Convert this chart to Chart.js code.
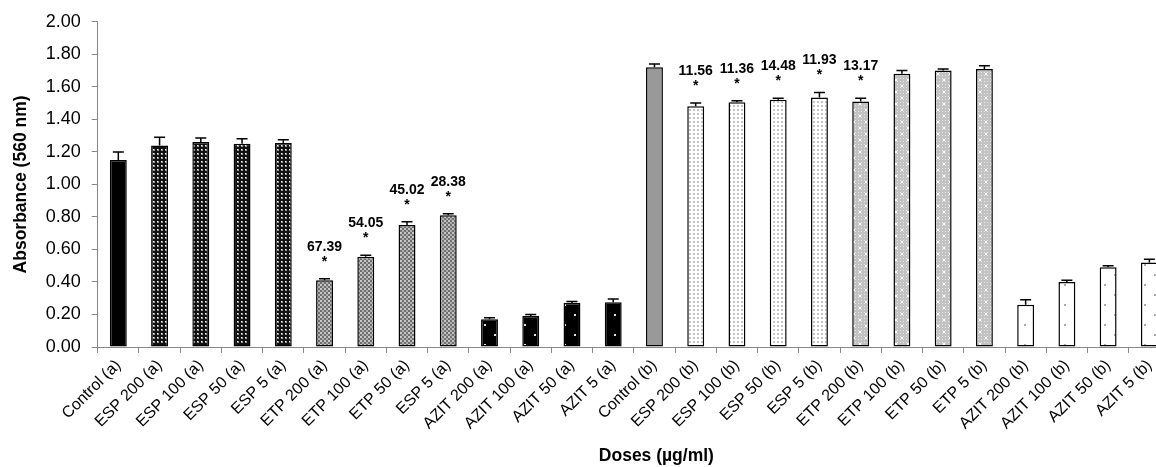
<!DOCTYPE html>
<html>
<head>
<meta charset="utf-8">
<script src="https://cdn.jsdelivr.net/npm/chart.js@4.4.1/dist/chart.umd.min.js"></script>
<style>
  html, body { margin: 0; padding: 0; background: #fff; overflow: hidden; }
  #wrap { width: 1175px; height: 467px; }
</style>
</head>
<body>
<div id="wrap"><canvas id="absChart"></canvas></div>
<script>
// Doses along the x axis
const categories = [
    'Control (a)', 'ESP 200 (a)', 'ESP 100 (a)', 'ESP 50 (a)', 'ESP 5 (a)',
    'ETP 200 (a)', 'ETP 100 (a)', 'ETP 50 (a)', 'ESP 5 (a)',
    'AZIT 200 (a)', 'AZIT 100 (a)', 'AZIT 50 (a)', 'AZIT 5 (a)',
    'Control (b)', 'ESP 200 (b)', 'ESP 100 (b)', 'ESP 50 (b)', 'ESP 5 (b)',
    'ETP 200 (b)', 'ETP 100 (b)', 'ETP 50 (b)', 'ETP 5 (b)',
    'AZIT 200 (b)', 'AZIT 100 (b)', 'AZIT 50 (b)', 'AZIT 5 (b)'
];

// absorbance at 560 nm (mean) and its error
const absorbance = [
    1.15, 1.24, 1.26, 1.25, 1.255,
    0.41, 0.555, 0.75, 0.81,
    0.17, 0.19, 0.27, 0.275,
    1.72, 1.48, 1.505, 1.52, 1.535,
    1.51, 1.68, 1.70, 1.71,
    0.26, 0.40, 0.49, 0.52
];
const errors = [
    0.05, 0.05, 0.025, 0.03, 0.02,
    0.01, 0.01, 0.02, 0.01,
    0.01, 0.01, 0.01, 0.02,
    0.02, 0.02, 0.01, 0.01, 0.03,
    0.02, 0.02, 0.01, 0.02,
    0.03, 0.01, 0.01, 0.02
];

// % inhibition written above the significant bars
const inhibition = [
    '', '', '', '', '',
    '67.39', '54.05', '45.02', '28.38',
    '', '', '', '',
    '', '11.56', '11.36', '14.48', '11.93',
    '13.17', '', '', '',
    '', '', '', ''
];

// which fill each bar gets
const barGroups = [
    'ctrlA', 'espA', 'espA', 'espA', 'espA',
    'etpA', 'etpA', 'etpA', 'etpA',
    'azitA', 'azitA', 'azitA', 'azitA',
    'ctrlB', 'espB', 'espB', 'espB', 'espB',
    'etpB', 'etpB', 'etpB', 'etpB',
    'azitB', 'azitB', 'azitB', 'azitB'
];

const yMin = 0, yMax = 2, yStep = 0.2;

// small tiled patterns like the Excel fills
function makePattern(size, bg, dots) {
    const c = document.createElement('canvas');
    c.width = size; c.height = size;
    const g = c.getContext('2d');
    g.fillStyle = bg;
    g.fillRect(0, 0, size, size);
    dots.forEach(d => {
        g.fillStyle = d[3];
        g.fillRect(d[0], d[1], d[2], d[2]);
    });
    return g.createPattern(c, 'repeat');
}

const ctx = document.getElementById('absChart').getContext('2d');

// grey checker with a few white specks for the ETP (b) bars
const etpBDots = [];
for (let i = 0; i < 12; i += 3) {
    for (let j = 0; j < 12; j += 3) {
        etpBDots.push([i, j, 1, '#e6e6e6']);
    }
}
etpBDots.push([1, 1, 2, '#ffffff'], [7, 7, 2, '#ffffff']);

const fills = {
    ctrlA: '#000000',
    espA: makePattern(4, '#101010', [[1, 1, 2, '#9a9a9a'], [1, 1, 1, '#ffffff']]),
    etpA: makePattern(4, '#6e6e6e', [[0, 0, 2, '#c8c8c8'], [2, 2, 2, '#b0b0b0']]),
    azitA: makePattern(20, '#000000', [[4, 4, 2, '#e0e0e0'], [14, 14, 2, '#e0e0e0']]),
    ctrlB: '#999999',
    espB: makePattern(4, '#ffffff', [[1, 1, 2, '#c4c4c4']]),
    etpB: makePattern(12, '#c2c2c2', etpBDots),
    azitB: makePattern(20, '#ffffff', [[4, 4, 2, '#a8a8a8'], [14, 14, 2, '#a8a8a8']])
};

const errorBars = {
    id: 'errorBars',
    afterDatasetsDraw(chart) {
        const c = chart.ctx;
        const y = chart.scales.y;
        const meta = chart.getDatasetMeta(0);
        c.save();
        c.strokeStyle = '#000';
        c.lineWidth = 1.5;
        c.fillStyle = '#000';
        c.textAlign = 'center';
        c.textBaseline = 'middle';
        meta.data.forEach((bar, i) => {
            const top = y.getPixelForValue(absorbance[i] + errors[i]);
            c.beginPath();
            c.moveTo(bar.x, bar.y);
            c.lineTo(bar.x, top);
            c.moveTo(bar.x - 5.5, top);
            c.lineTo(bar.x + 5.5, top);
            c.stroke();
            if (inhibition[i]) {
                c.font = 'bold 14px "Liberation Sans", Arial, sans-serif';
                c.fillText('*', bar.x, top - 17);
                c.fillText(inhibition[i], bar.x, top - 32);
            }
        });
        // x axis title
        const area = chart.chartArea;
        c.font = 'bold 17.5px "Liberation Sans", Arial, sans-serif';
        c.fillText('Doses (µg/ml)', area.left + (area.right - area.left) * 0.521, 456);
        c.restore();
    }
};

new Chart(ctx, {
    type: 'bar',
    data: {
        labels: categories,
        datasets: [{
            data: absorbance,
            backgroundColor: barGroups.map(g => fills[g]),
            borderColor: '#000',
            borderWidth: 1.5,
            borderSkipped: false,
            categoryPercentage: 1,
            barPercentage: 0.41
        }]
    },
    options: {
        responsive: true,
        maintainAspectRatio: false,
        animation: false,
        layout: { padding: { top: 21, right: 5, left: 0, bottom: 0 } },
        plugins: {
            legend: { display: false },
            tooltip: { enabled: false }
        },
        scales: {
            x: {
                afterFit: s => { s.height = 120; },
                grid: { drawOnChartArea: false, color: '#888', tickLength: 6, offset: true },
                border: { color: '#888', width: 1 },
                ticks: {
                    color: '#000',
                    minRotation: 45,
                    maxRotation: 45,
                    autoSkip: false,
                    padding: 3,
                    font: { family: '"Liberation Sans", Arial, sans-serif', size: 16 }
                }
            },
            y: {
                min: yMin,
                max: yMax,
                afterFit: s => { s.width = 97.7; },
                grid: { drawOnChartArea: false, color: '#888', tickLength: 6 },
                border: { color: '#888', width: 1 },
                ticks: {
                    stepSize: yStep,
                    color: '#000',
                    padding: 11,
                    callback: v => v.toFixed(2),
                    font: { family: '"Liberation Sans", Arial, sans-serif', size: 18 }
                },
                title: {
                    display: true,
                    text: 'Absorbance (560 nm)',
                    color: '#000',
                    padding: { top: 11, bottom: 0 },
                    font: { family: '"Liberation Sans", Arial, sans-serif', size: 17.5, weight: 'bold' }
                }
            }
        }
    },
    plugins: [errorBars]
});
</script>
</body>
</html>
